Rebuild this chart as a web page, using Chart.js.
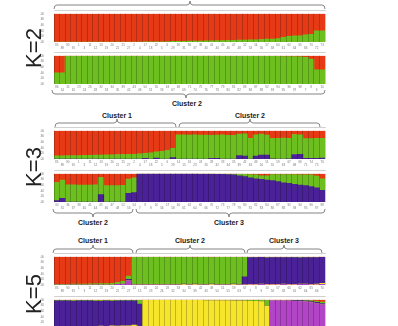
<!DOCTYPE html>
<html>
<head>
<meta charset="utf-8">
<script src="https://cdn.jsdelivr.net/npm/chart.js@4/dist/chart.umd.min.js"></script>
<style>
  html, body { margin: 0; padding: 0; background: #fff; }
  body { width: 398px; height: 326px; position: relative; overflow: hidden; font-family: "Liberation Sans", Arial, sans-serif; }
  canvas { position: absolute; left: 40px; }
  .k { position: absolute; font-size: 22px; color: #222; transform: translate(-50%, -50%) rotate(-90deg); white-space: nowrap; line-height: 1; }
  .cl { position: absolute; font-size: 7px; font-weight: bold; color: #222; transform: translate(-50%, -50%); white-space: nowrap; line-height: 1; }
  svg { position: absolute; left: 0; top: 0; }
</style>
</head>
<body>
<svg id="braces" width="398" height="326"></svg>

<canvas id="k2a" width="292" height="41" style="top:10px"></canvas>
<canvas id="k2b" width="292" height="41" style="top:52px"></canvas>
<canvas id="k3a" width="292" height="41" style="top:127px"></canvas>
<canvas id="k3b" width="292" height="41" style="top:170px"></canvas>
<canvas id="k5a" width="292" height="41" style="top:253px"></canvas>
<canvas id="k5b" width="292" height="41" style="top:296px"></canvas>

<div class="k" style="left:34px;top:48px">K=2</div>
<div class="k" style="left:34px;top:167px">K=3</div>
<div class="k" style="left:34px;top:294px">K=5</div>

<div class="cl" style="left:187px;top:103px">Cluster 2</div>
<div class="cl" style="left:117px;top:115px">Cluster 1</div>
<div class="cl" style="left:250px;top:115px">Cluster 2</div>
<div class="cl" style="left:93px;top:222px">Cluster 2</div>
<div class="cl" style="left:229px;top:222px">Cluster 3</div>
<div class="cl" style="left:93px;top:240px">Cluster 1</div>
<div class="cl" style="left:190px;top:240px">Cluster 2</div>
<div class="cl" style="left:284px;top:240px">Cluster 3</div>

<script>
// ancestry colours
const RED = '#e63a17';
const GREEN = '#6cbf1e';
const PURPLE = '#4a2196';
const YELLOW = '#f6e52a';
const MAGENTA = '#b244c6';

// sample ids under each panel (unreadable in the source, estimated)
const idsK2a = [85,89,90,91,1,3,11,12,13,19,20,21,25,27,2,4,17,18,22,5,6,29,30,31,36,37,38,40,41,44,45,46,47,48,52,53,54,56,57,58,60,61,62,64,65,66,70,72,73];
const idsK2b = [86,14,15,16,23,24,26,28,32,33,34,35,39,42,43,49,50,51,55,59,63,67,68,69,71,74,75,76,77,78,79,80,81,82,83,84,87,88,92,93,94,95,96,97,98,7,8,9,10];
const idsK3a = [85,89,90,91,1,3,11,12,13,19,20,21,25,27,2,4,17,18,22,5,6,29,14,15,16,23,24,26,28,32,33,34,35,39,42,43,49,50,51,55,59,63,67,68,69,71,74,75,76];
const idsK3b = [30,31,36,37,38,40,41,44,45,46,47,48,52,53,54,7,8,9,10,56,57,58,60,61,62,64,65,66,70,72,73,77,78,79,80,81,82,83,84,86,87,88,92,93,94,95,96,97,98];
const idsK5a = [85,89,90,91,1,3,11,12,13,19,20,21,25,27,14,15,16,23,24,26,28,32,33,34,35,39,42,43,49,50,51,55,59,63,67,7,8,9,10,56,57,58,60,61,62,64,65,66,70];
const idsK5b = [2,4,17,18,22,5,6,29,30,31,36,37,38,40,41,44,45,46,47,48,52,53,54,68,69,71,74,75,76,77,78,79,80,81,82,83,84,86,87,88,92,93,94,95,96,97,98,72,73];

// K=2, upper panel
const k2aGreen = [0,0,0,0,0,0,0, 0,0,0,0,0,0,0, 0,0,0.01,0.01,0.01,0.01,0.01, 0.02,0.02,0.02,0.03,0.03,0.03,0.04, 0.04,0.05,0.05,0.06,0.06,0.07,0.07, 0.08,0.08,0.09,0.1,0.1,0.12,0.17, 0.2,0.22,0.22,0.25,0.27,0.4,0.4];
const k2aRed   = [1,1,1,1,1,1,1, 1,1,1,1,1,1,1, 1,1,0.99,0.99,0.99,0.99,0.99, 0.98,0.98,0.98,0.97,0.97,0.97,0.96, 0.96,0.95,0.95,0.94,0.94,0.93,0.93, 0.92,0.92,0.91,0.9,0.9,0.88,0.83, 0.8,0.78,0.78,0.75,0.73,0.6,0.6];

// K=2, lower panel
const k2bGreen = [0.4,0.4,0.99,0.99,0.99,0.99,0.99, 0.99,0.99,0.99,0.99,0.99,0.99,0.99, 0.99,0.99,0.99,0.99,0.99,0.99,0.99, 0.99,0.99,0.99,0.99,0.99,0.99,0.99, 0.99,0.99,0.98,0.98,0.98,0.98,0.98, 0.98,0.98,0.98,0.98,0.98,0.98,0.97, 0.97,0.97,0.96,0.95,0.88,0.5,0.5];
const k2bRed   = [0.6,0.6,0.01,0.01,0.01,0.01,0.01, 0.01,0.01,0.01,0.01,0.01,0.01,0.01, 0.01,0.01,0.01,0.01,0.01,0.01,0.01, 0.01,0.01,0.01,0.01,0.01,0.01,0.01, 0.01,0.01,0.02,0.02,0.02,0.02,0.02, 0.02,0.02,0.02,0.02,0.02,0.02,0.03, 0.03,0.03,0.04,0.05,0.12,0.5,0.5];

// K=3, upper panel
const k3aPurple = [0,0,0,0,0,0,0, 0,0,0,0,0,0,0, 0,0,0.02,0,0.03,0,0, 0.05,0,0,0,0,0,0, 0.02,0.02,0,0,0,0.12,0.1, 0,0.1,0.14,0.14,0.01,0,0, 0.01,0.16,0.17,0.02,0.02,0.02,0.03];
const k3aGreen  = [0.11,0.11,0.12,0.12,0.12,0.13,0.13, 0.14,0.14,0.15,0.15,0.16,0.16,0.17, 0.17,0.18,0.18,0.22,0.22,0.27,0.3, 0.33,0.86,0.86,0.85,0.86,0.85,0.85, 0.82,0.83,0.86,0.84,0.84,0.76,0.79, 0.73,0.76,0.74,0.71,0.72,0.73,0.74, 0.72,0.71,0.69,0.7,0.7,0.71,0.7];
const k3aRed    = [0.89,0.89,0.88,0.88,0.88,0.87,0.87, 0.86,0.86,0.85,0.85,0.84,0.84,0.83, 0.83,0.82,0.8,0.78,0.75,0.73,0.7, 0.62,0.14,0.14,0.15,0.14,0.15,0.15, 0.16,0.15,0.14,0.16,0.16,0.12,0.11, 0.27,0.14,0.12,0.15,0.27,0.27,0.26, 0.27,0.13,0.14,0.28,0.28,0.27,0.27];

// K=3, lower panel
const k3bPurple = [0.05,0.13,0,0,0,0,0, 0,0.26,0,0,0,0,0.31, 0.33,1,1,1,1,1,1, 1,1,1,1,1,0.99,0.99, 0.99,0.98,0.98,0.97,0.96,0.93,0.9, 0.86,0.82,0.8,0.78,0.76,0.72,0.68, 0.66,0.63,0.6,0.58,0.55,0.5,0.41];
const k3bGreen  = [0.64,0.65,0.61,0.61,0.6,0.6,0.6, 0.61,0.61,0.58,0.58,0.58,0.59,0.5, 0.53,0,0,0,0,0,0, 0,0,0,0,0,0.01,0.01, 0.01,0.02,0.02,0.03,0.04,0.06,0.08, 0.11,0.14,0.13,0.15,0.21,0.25,0.29, 0.31,0.34,0.36,0.38,0.41,0.42,0.41];
const k3bRed    = [0.31,0.22,0.39,0.39,0.4,0.4,0.4, 0.39,0.13,0.42,0.42,0.42,0.41,0.19, 0.14,0,0,0,0,0,0, 0,0,0,0,0,0,0, 0,0,0,0,0,0.01,0.02, 0.03,0.04,0.07,0.07,0.03,0.03,0.03, 0.03,0.03,0.04,0.04,0.04,0.08,0.18];

// K=5, upper panel
const k5aMagenta = [0,0,0,0,0,0,0, 0,0,0,0,0.02,0.03,0.15, 0,0,0,0,0,0,0, 0,0,0,0,0,0,0, 0,0,0,0,0,0,0, 0.01,0.01,0.02,0.01,0.01,0.01,0.02, 0.01,0.01,0.02,0.02,0.01,0.01,0.02];
const k5aYellow  = [0,0,0,0,0,0,0, 0,0,0,0,0,0,0, 0.01,0.01,0.01,0.01,0.01,0.01,0.01, 0.01,0.01,0.02,0.01,0.02,0.01,0.01, 0.02,0.01,0.01,0.01,0.02,0.01,0.01, 0.01,0.01,0.01,0.01,0.01,0.01,0.01, 0.01,0.01,0.01,0.01,0.01,0.02,0.04];
const k5aPurple  = [0,0,0,0,0,0,0, 0,0,0,0,0,0,0.05, 0.01,0.01,0.01,0.01,0.01,0.01,0.01, 0.01,0.01,0.01,0.01,0.01,0.01,0.01, 0.01,0.01,0.01,0.01,0.01,0.01,0.28, 0.95,0.95,0.95,0.94,0.95,0.95,0.94, 0.95,0.95,0.93,0.94,0.95,0.94,0.92];
const k5aGreen   = [0.02,0.02,0.02,0.03,0.03,0.03,0.04, 0.04,0.05,0.05,0.06,0.07,0.1,0.12, 0.96,0.96,0.96,0.96,0.96,0.96,0.95, 0.96,0.96,0.95,0.96,0.94,0.96,0.96, 0.94,0.96,0.96,0.96,0.95,0.96,0.69, 0.01,0.01,0.01,0.02,0.01,0.01,0.01, 0.01,0.01,0.02,0.01,0.01,0.01,0.01];
const k5aRed     = [0.98,0.98,0.98,0.97,0.97,0.97,0.96, 0.96,0.95,0.95,0.94,0.91,0.87,0.68, 0.02,0.02,0.02,0.02,0.02,0.02,0.03, 0.02,0.02,0.02,0.02,0.03,0.02,0.02, 0.03,0.02,0.02,0.02,0.02,0.02,0.02, 0.02,0.02,0.01,0.02,0.02,0.02,0.02, 0.02,0.02,0.02,0.02,0.02,0.02,0.01];

// K=5, lower panel
const k5bMagenta = [0,0,0,0,0,0,0, 0,0,0,0,0,0,0, 0,0,0,0,0,0,0, 0,0,0,0,0,0,0, 0,0,0,0,0,0,0, 0,0,0,0,0.97,0.97,0.96, 0.96,0.95,0.94,0.93,0.9,0.86,0.82];
const k5bYellow  = [0.03,0.04,0.03,0.05,0.04,0.06,0.05, 0.05,0.07,0.06,0.08,0.07,0.08,0.08, 0.1,0.05,0.98,0.98,0.98,0.98,0.98, 0.98,0.98,0.98,0.98,0.98,0.98,0.97, 0.97,0.97,0.97,0.97,0.96,0.96,0.96, 0.95,0.95,0.94,0.78,0,0,0, 0,0,0,0,0,0,0];
const k5bPurple  = [0.93,0.92,0.93,0.9,0.92,0.9,0.91, 0.9,0.88,0.9,0.87,0.89,0.88,0.88, 0.86,0.8,0,0,0,0,0, 0,0,0,0,0,0,0, 0,0,0,0,0,0,0, 0,0,0,0,0.01,0.01,0.01, 0.02,0.02,0.03,0.03,0.04,0.05,0.05];
const k5bGreen   = [0.02,0.02,0.02,0.02,0.02,0.02,0.02, 0.02,0.02,0.02,0.02,0.02,0.02,0.02, 0.02,0.13,0.01,0.01,0.01,0.01,0.01, 0.01,0.01,0.01,0.01,0.01,0.01,0.02, 0.02,0.02,0.02,0.02,0.03,0.03,0.03, 0.04,0.04,0.05,0.2,0.01,0.01,0.01, 0.01,0.01,0.01,0.02,0.03,0.04,0.05];
const k5bRed     = [0.02,0.02,0.02,0.03,0.02,0.02,0.02, 0.03,0.03,0.02,0.03,0.02,0.02,0.02, 0.02,0.02,0.01,0.01,0.01,0.01,0.01, 0.01,0.01,0.01,0.01,0.01,0.01,0.01, 0.01,0.01,0.01,0.01,0.01,0.01,0.01, 0.01,0.01,0.01,0.02,0.01,0.01,0.02, 0.01,0.02,0.02,0.02,0.03,0.05,0.08];

function drawPanel(id, ids, series) {
  new Chart(document.getElementById(id), {
    type: 'bar',
    data: {
      labels: ids.map((v, i) => i % 2 ? ['', String(v)] : [String(v), '']),
      datasets: series.map(s => ({
        data: s[0],
        backgroundColor: s[1],
        borderWidth: 0,
        barPercentage: 1,
        categoryPercentage: 1
      }))
    },
    options: {
      responsive: false,
      animation: false,
      layout: { padding: { top: 2, right: 7, left: 0, bottom: 0 } },
      plugins: { legend: { display: false }, tooltip: { enabled: false } },
      scales: {
        x: {
          stacked: true,
          grid: { display: true, z: 1, color: 'rgba(0,0,0,0.35)', lineWidth: 0.6, drawTicks: false },
          border: { display: true, color: '#8a8a8a', width: 0.8 },
          ticks: { autoSkip: false, maxRotation: 0, minRotation: 0, padding: 1, color: '#777', font: { size: 3, lineHeight: 1.2 } },
          afterFit(a) { a.height = 9; }
        },
        y: {
          stacked: true,
          min: 0,
          max: 1,
          grid: { display: false },
          border: { display: false },
          ticks: { autoSkip: false, stepSize: 0.2, padding: 2, color: '#777', font: { size: 3 }, callback: v => v.toFixed(2) },
          afterFit(a) { a.width = 14; }
        }
      }
    }
  });
}

drawPanel('k2a', idsK2a, [[k2aGreen, GREEN], [k2aRed, RED]]);
drawPanel('k2b', idsK2b, [[k2bGreen, GREEN], [k2bRed, RED]]);
drawPanel('k3a', idsK3a, [[k3aPurple, PURPLE], [k3aGreen, GREEN], [k3aRed, RED]]);
drawPanel('k3b', idsK3b, [[k3bPurple, PURPLE], [k3bGreen, GREEN], [k3bRed, RED]]);
drawPanel('k5a', idsK5a, [[k5aMagenta, MAGENTA], [k5aYellow, YELLOW], [k5aPurple, PURPLE], [k5aGreen, GREEN], [k5aRed, RED]]);
drawPanel('k5b', idsK5b, [[k5bMagenta, MAGENTA], [k5bYellow, YELLOW], [k5bPurple, PURPLE], [k5bGreen, GREEN], [k5bRed, RED]]);

// curly braces: [x1, x2, xTip, y, direction of the tip (-1 up, 1 down)]
const braces = [
  [54, 325, 190, 5, -1],
  [52, 325, 186, 94, 1],
  [55, 176, 117, 123, -1],
  [179, 320, 250, 123, -1],
  [53, 133, 93, 213, 1],
  [136, 325, 229, 213, 1],
  [53, 133, 93, 249, -1],
  [136, 245, 190, 249, -1],
  [247, 322, 284, 249, -1]
];
const svg = document.getElementById('braces');
braces.forEach(([x1, x2, xm, y, d]) => {
  const e = -d * 4, t = d * 4;
  const p = `M${x1} ${y + e} Q${x1} ${y} ${x1 + 3} ${y} L${xm - 3} ${y} Q${xm} ${y} ${xm} ${y + t} ` +
            `Q${xm} ${y} ${xm + 3} ${y} L${x2 - 3} ${y} Q${x2} ${y} ${x2} ${y + e}`;
  const path = document.createElementNS('http://www.w3.org/2000/svg', 'path');
  path.setAttribute('d', p);
  path.setAttribute('fill', 'none');
  path.setAttribute('stroke', '#777');
  path.setAttribute('stroke-width', '0.9');
  svg.appendChild(path);
});
</script>
</body>
</html>
